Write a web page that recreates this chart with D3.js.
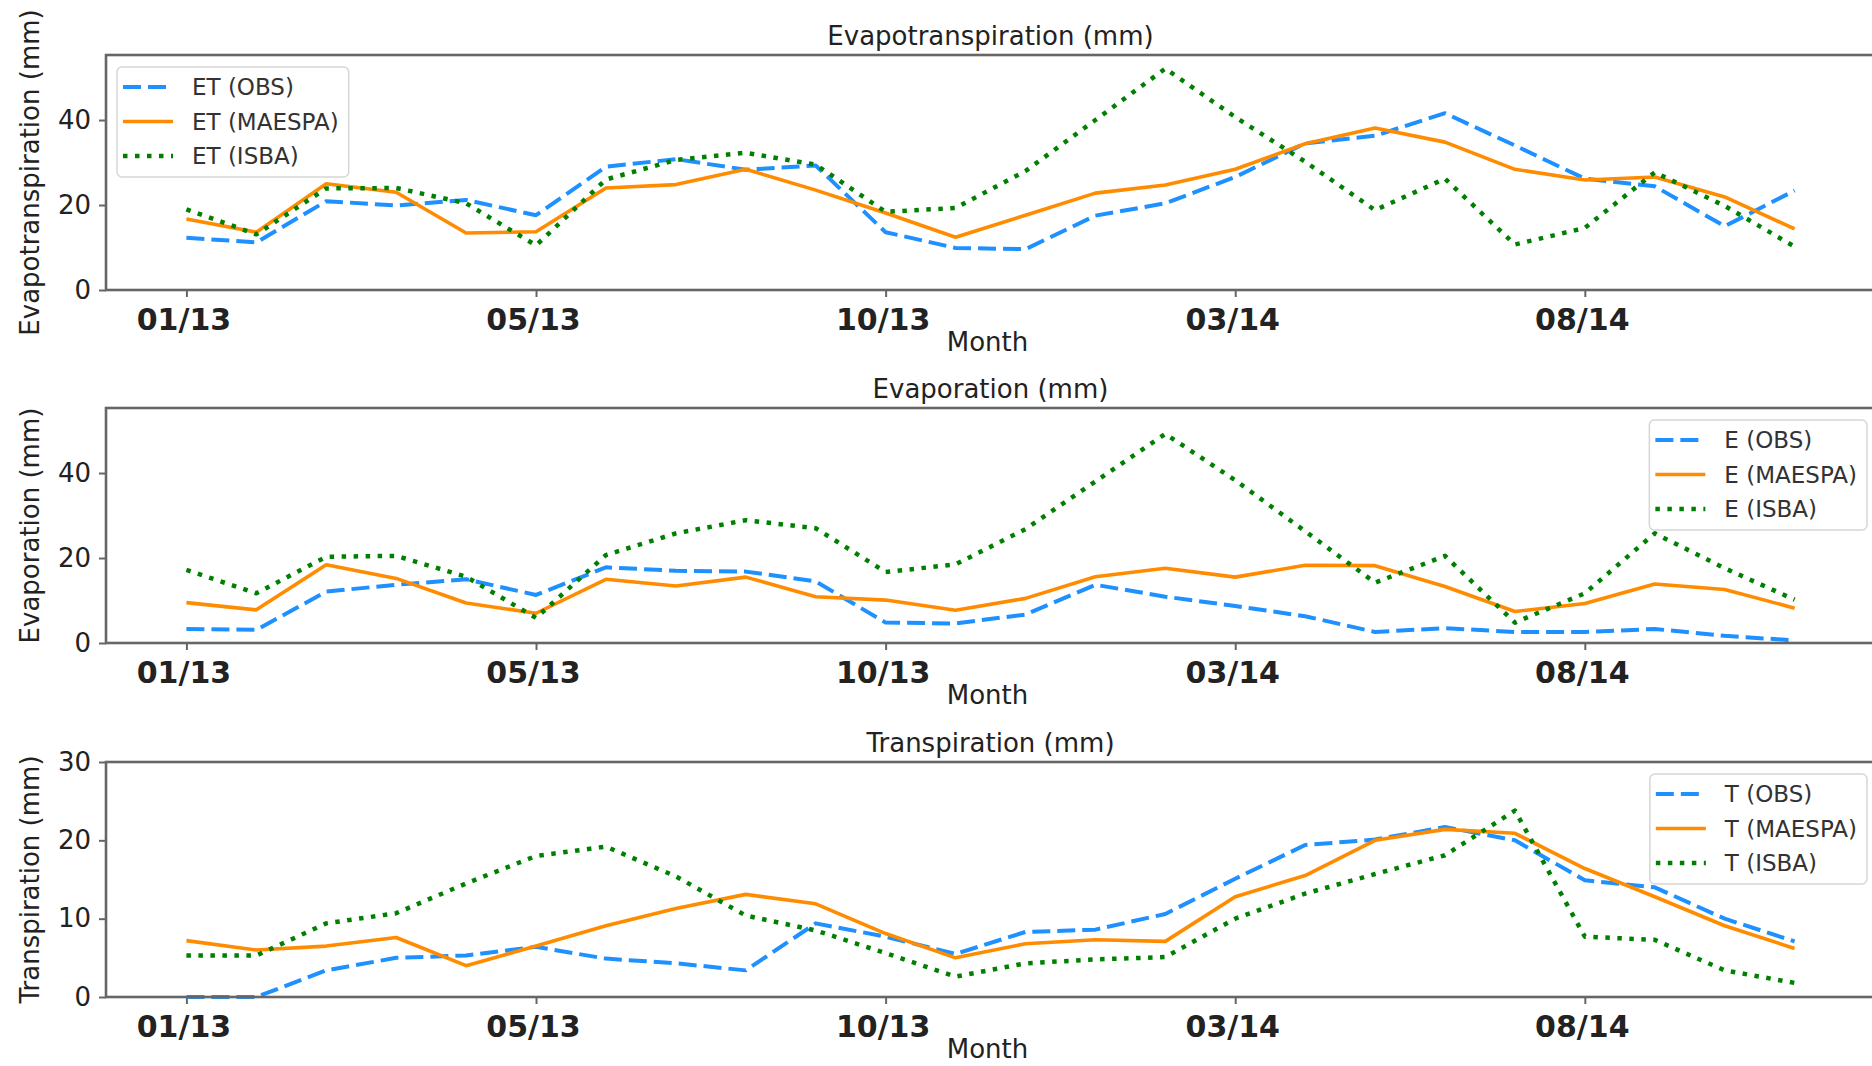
<!DOCTYPE html>
<html>
<head>
<meta charset="utf-8">
<script src="https://cdn.jsdelivr.net/npm/d3@7"></script>
<style>
  body { margin: 0; background: #fff; }
  svg { display: block; font-family: "DejaVu Sans", sans-serif; }
</style>
</head>
<body>
<figure id="chart" style="margin:0"></figure>
<script>
// month index 0..23, only some get a label
var tickIdx = [0, 5, 10, 15, 20];
var tickLabels = ["01/13", "05/13", "10/13", "03/14", "08/14"];

// evapotranspiration
var etObs    = [12.3, 11.2, 20.9, 19.9, 21.2, 17.6, 29.0, 30.8, 28.3, 29.3, 13.6, 9.9, 9.6, 17.5, 20.4, 26.6, 34.5, 36.3, 41.6, 34.0, 26.2, 24.4, 15.0, 23.4];
var etMaespa = [16.7, 13.6, 25.0, 23.0, 13.4, 13.7, 24.0, 24.8, 28.4, 23.5, 18.1, 12.4, 17.6, 22.8, 24.7, 28.4, 34.4, 38.1, 34.8, 28.4, 25.9, 26.6, 21.9, 14.4];
var etIsba   = [19.0, 13.1, 23.9, 24.0, 20.4, 10.5, 26.0, 30.6, 32.3, 29.5, 18.4, 19.3, 28.0, 40.0, 52.1, 40.7, 30.2, 18.8, 26.2, 10.7, 14.6, 27.7, 19.8, 10.2];

// evaporation
var eObs    = [3.3, 3.1, 12.1, 13.7, 15.0, 11.3, 17.8, 17.0, 16.8, 14.5, 4.8, 4.6, 6.7, 13.7, 10.9, 8.7, 6.3, 2.6, 3.5, 2.6, 2.6, 3.3, 1.7, 0.6];
var eMaespa = [9.5, 7.8, 18.4, 15.2, 9.4, 7.0, 15.0, 13.4, 15.5, 10.9, 10.1, 7.7, 10.5, 15.6, 17.6, 15.5, 18.3, 18.2, 13.3, 7.4, 9.3, 13.9, 12.6, 8.2];
var eIsba   = [17.2, 11.7, 20.3, 20.5, 15.6, 5.9, 20.7, 25.8, 28.9, 27.0, 16.7, 18.5, 26.8, 38.0, 49.2, 38.3, 26.3, 14.2, 20.5, 4.8, 11.7, 25.8, 17.6, 10.2];

// transpiration
var tObs    = [0.0, 0.0, 3.4, 5.0, 5.3, 6.4, 4.9, 4.3, 3.4, 9.4, 7.7, 5.5, 8.3, 8.6, 10.6, 15.1, 19.4, 20.1, 21.7, 20.0, 14.9, 14.0, 10.0, 7.1];
var tMaespa = [7.2, 6.0, 6.5, 7.6, 4.0, 6.5, 9.1, 11.3, 13.1, 11.9, 8.1, 5.0, 6.8, 7.3, 7.1, 12.8, 15.5, 20.0, 21.4, 20.9, 16.4, 12.8, 9.1, 6.2];
var tIsba   = [5.3, 5.3, 9.4, 10.7, 14.5, 18.0, 19.2, 15.4, 10.4, 8.5, 5.6, 2.6, 4.3, 4.8, 5.1, 10.0, 13.2, 15.7, 18.1, 23.8, 7.7, 7.3, 3.4, 1.8];

var seriesNames = ["OBS", "MAESPA", "ISBA"];

var dimensions = {
    width: 1872,
    height: 1066,
    panelHeight: 235,
    left: 106,
    right: 1875, // right spine falls just outside the picture
};

var styles = [
    { color: "#1e90ff", width: 4, dash: "18,7" },
    { color: "#ff8c00", width: 3.6, dash: null },
    { color: "#008000", width: 4.5, dash: "4.5,7.5" },
];

var panels = [
    { top: 55,  title: "Evapotranspiration (mm)", ylabel: "Evapotranspiration (mm)", prefix: "ET",
      data: [etObs, etMaespa, etIsba], ymax: 55.3, yticks: [0, 20, 40], legend: "left" },
    { top: 408, title: "Evaporation (mm)", ylabel: "Evaporation (mm)", prefix: "E",
      data: [eObs, eMaespa, eIsba], ymax: 55.3, yticks: [0, 20, 40], legend: "right" },
    { top: 762, title: "Transpiration (mm)", ylabel: "Transpiration (mm)", prefix: "T",
      data: [tObs, tMaespa, tIsba], ymax: 30, yticks: [0, 10, 20, 30], legend: "right" },
];

var svg = d3.select("figure#chart")
    .append("svg")
    .attr("width", dimensions.width)
    .attr("height", dimensions.height);

svg.append("rect")
    .attr("width", dimensions.width)
    .attr("height", dimensions.height)
    .attr("fill", "#fff");

var xScale = d3.scaleLinear()
    .domain([-1.15, 24.15])
    .range([dimensions.left, dimensions.right]);

var textColor = "#222";
var spineColor = "#666";

panels.forEach(function(p) {
    var bottom = p.top + dimensions.panelHeight;
    var yScale = d3.scaleLinear()
        .domain([0, p.ymax])
        .range([bottom, p.top]);

    var g = svg.append("g");

    // x axis
    var xAxis = g.append("g")
        .attr("transform", `translate(0, ${bottom})`)
        .call(d3.axisBottom(xScale)
            .tickValues(tickIdx)
            .tickFormat((d, i) => tickLabels[i])
            .tickSize(7)
            .tickPadding(12));
    xAxis.select(".domain").remove();
    xAxis.selectAll("line").attr("stroke", spineColor).attr("stroke-width", 2);
    xAxis.selectAll("text")
        .attr("x", -3)
        .attr("fill", textColor)
        .attr("font-size", 30)
        .attr("font-weight", "bold")
        .attr("font-family", "DejaVu Sans");

    // y axis
    var yAxis = g.append("g")
        .attr("transform", `translate(${dimensions.left}, 0)`)
        .call(d3.axisLeft(yScale)
            .tickValues(p.yticks)
            .tickSize(7)
            .tickPadding(8));
    yAxis.select(".domain").remove();
    yAxis.selectAll("line").attr("stroke", spineColor).attr("stroke-width", 2);
    yAxis.selectAll("text")
        .attr("fill", textColor)
        .attr("font-size", 26)
        .attr("font-family", "DejaVu Sans");

    // lines (obs, maespa, isba in drawing order)
    var line = d3.line()
        .x((d, i) => xScale(i))
        .y(d => yScale(d));

    p.data.forEach(function(values, k) {
        g.append("path")
            .datum(values)
            .attr("d", line)
            .attr("fill", "none")
            .attr("stroke", styles[k].color)
            .attr("stroke-width", styles[k].width)
            .attr("stroke-dasharray", styles[k].dash)
            .attr("stroke-linejoin", "round");
    });

    // frame
    g.append("rect")
        .attr("x", dimensions.left)
        .attr("y", p.top)
        .attr("width", dimensions.right - dimensions.left)
        .attr("height", dimensions.panelHeight)
        .attr("fill", "none")
        .attr("stroke", spineColor)
        .attr("stroke-width", 2.6);

    // title, x label, y label
    var cx = (dimensions.left + dimensions.right) / 2;
    g.append("text")
        .attr("x", cx)
        .attr("y", p.top - 10)
        .attr("text-anchor", "middle")
        .attr("font-size", 26)
        .attr("fill", textColor)
        .text(p.title);

    g.append("text")
        .attr("x", cx - 3)
        .attr("y", bottom + 61)
        .attr("text-anchor", "middle")
        .attr("font-size", 26)
        .attr("fill", textColor)
        .text("Month");

    g.append("text")
        .attr("transform", `translate(39, ${(p.top + bottom) / 2}) rotate(-90)`)
        .attr("text-anchor", "middle")
        .attr("font-size", 26)
        .attr("fill", textColor)
        .text(p.ylabel);

    // legend
    var leg = g.append("g");
    var box = leg.append("rect")
        .attr("rx", 5)
        .attr("fill", "#fff")
        .attr("fill-opacity", 0.85)
        .attr("stroke", "#d6d6d6")
        .attr("stroke-width", 1.5);

    var maxW = 0;
    seriesNames.forEach(function(name, k) {
        var cy = 20 + k * 34.5;
        leg.append("line")
            .attr("x1", 6).attr("x2", 56)
            .attr("y1", cy).attr("y2", cy)
            .attr("stroke", styles[k].color)
            .attr("stroke-width", styles[k].width)
            .attr("stroke-dasharray", styles[k].dash);
        var t = leg.append("text")
            .attr("x", 75)
            .attr("y", cy)
            .attr("dy", "0.36em")
            .attr("font-size", 23)
            .attr("fill", "#333")
            .text(`${p.prefix} (${name})`);
        maxW = Math.max(maxW, t.node().getComputedTextLength());
    });
    var boxW = 75 + maxW + 10;
    box.attr("width", boxW).attr("height", 110);

    var lx = p.legend === "left" ? dimensions.left + 11 : 1867 - boxW;
    leg.attr("transform", `translate(${lx}, ${p.top + 12})`);
});
</script>
</body>
</html>
